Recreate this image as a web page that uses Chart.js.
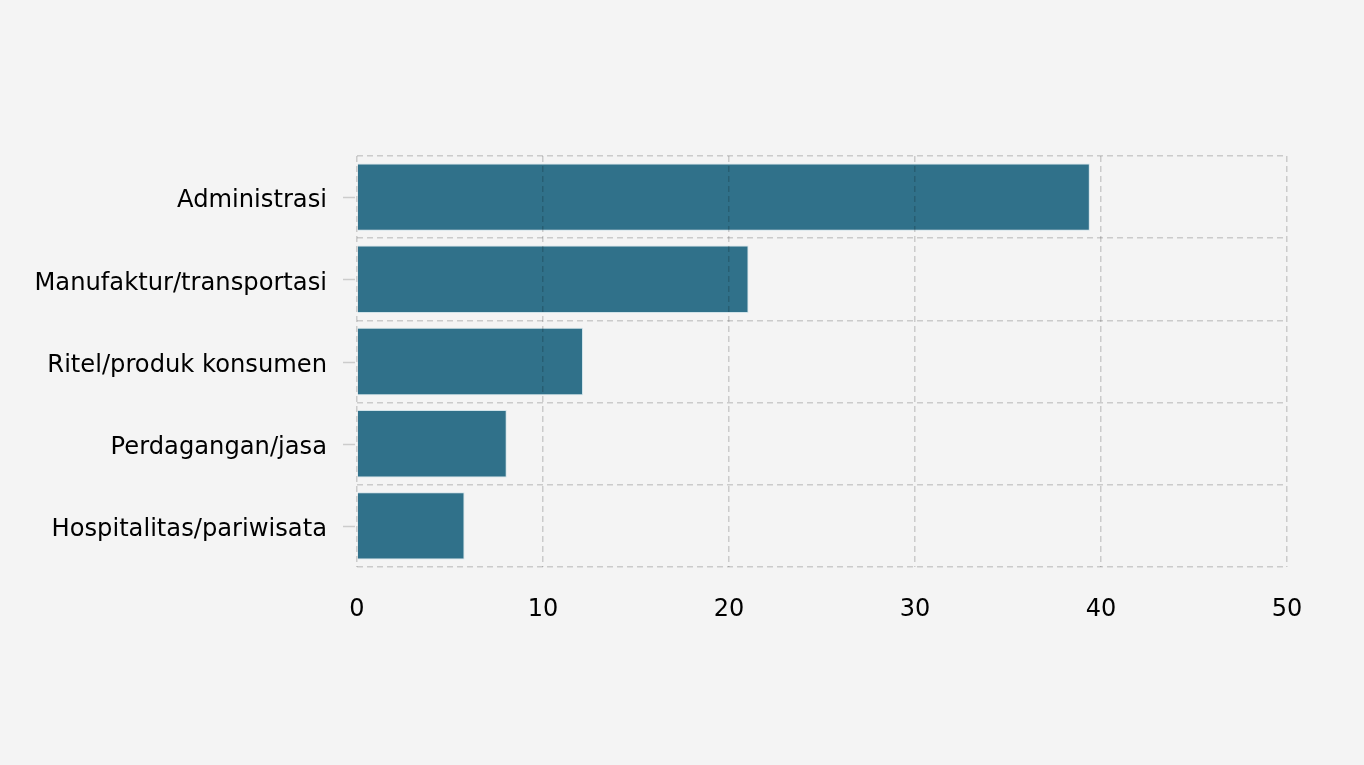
<!DOCTYPE html>
<html>
<head>
<meta charset="utf-8">
<script src="https://cdn.jsdelivr.net/npm/chart.js@4"></script>
<style>
html,body{margin:0;padding:0;background:#f4f4f4;}
#wrap{width:1364px;height:765px;position:relative;}
</style>
</head>
<body>
<div id="wrap"><canvas id="c" width="1364" height="765"></canvas></div>
<script>
const categories = ["Administrasi", "Manufaktur/transportasi", "Ritel/produk konsumen", "Perdagangan/jasa", "Hospitalitas/pariwisata"];
const values = [39.4, 21.05, 12.15, 8.05, 5.78];
const xTicks = [0, 10, 20, 30, 40, 50];

const centerTicks = {
  id: 'centerTicks',
  afterDraw(chart) {
    const y = chart.scales.y, ctx = chart.ctx;
    ctx.save();
    ctx.strokeStyle = '#cccccc';
    ctx.lineWidth = 1.5;
    categories.forEach((c, i) => {
      const py = Math.round(y.getPixelForValue(i)) + 0.5;
      ctx.beginPath();
      ctx.moveTo(y.right - 14, py);
      ctx.lineTo(y.right - 2, py);
      ctx.stroke();
    });
    ctx.restore();
  }
};

new Chart(document.getElementById('c'), {
  type: 'bar',
  data: {
    labels: categories,
    datasets: [{
      data: values,
      backgroundColor: 'rgba(27,99,126,0.9)',
      borderColor: 'rgba(205,225,232,0.9)',
      borderWidth: 1,
      barPercentage: 0.82,
      categoryPercentage: 1
    }]
  },
  options: {
    indexAxis: 'y',
    responsive: false,
    animation: false,
    layout: { padding: { top: 156, right: 77, left: 0, bottom: 0 } },
    plugins: { legend: { display: false }, tooltip: { enabled: false } },
    scales: {
      x: {
        min: 0, max: 50,
        afterBuildTicks(s) { s.ticks = xTicks.map(v => ({ value: v })); },
        afterFit(s) { s.height = 198; },
        grid: { color: 'rgba(0,0,0,0.17)', lineWidth: 1.5, drawTicks: false, z: 1 },
        border: { display: false, dash: [6, 4] },
        ticks: { padding: 28, color: '#000', font: { family: 'DejaVu Sans', size: 24 } }
      },
      y: {
        afterFit(s) { s.width = 357; },
        border: { display: false, dash: [6, 4] },
        grid: { color: 'rgba(0,0,0,0.17)', lineWidth: 1.5, drawTicks: false, offset: true, z: 1 },
        ticks: { padding: 30, labelOffset: 4, color: '#000', font: { family: 'DejaVu Sans', size: 24.2 } }
      }
    }
  },
  plugins: [centerTicks]
});
</script>
</body>
</html>
